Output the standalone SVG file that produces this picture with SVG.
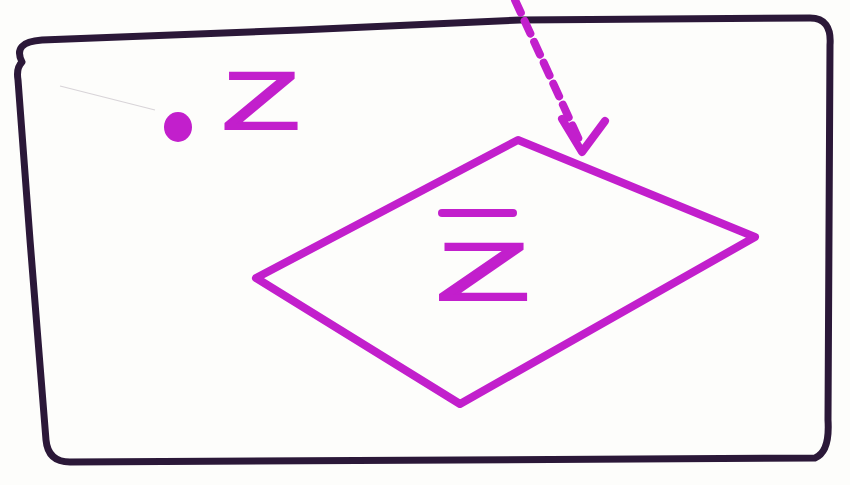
<svg xmlns="http://www.w3.org/2000/svg" width="850" height="485" viewBox="0 0 850 485">
<style>
.ink{fill:none;stroke:#c21fcc;stroke-width:8;stroke-linecap:round;stroke-linejoin:round}
.lbl{font-family:"Liberation Sans",Arial,sans-serif;fill:#c21fcc;stroke:#c21fcc;stroke-width:2}
</style>
<rect width="850" height="485" fill="#fdfdfb"/>
<g id="frame">
<path d="M22,62 Q12,42 42,40 L300,30 L520,20 L810,18 Q832,18 830,45 L828,420 Q830,452 815,458 L70,462 Q48,462 46,440 L30,240 L18,80 Q16,68 22,62 Z" fill="none" stroke="#2b1838" stroke-width="7" stroke-linejoin="round"/>
</g>
<g id="pointZ">
<line x1="60" y1="86" x2="155" y2="110" stroke="#d8d4d8" stroke-width="1.2"/>
<ellipse cx="178" cy="127" rx="14" ry="15" fill="#c21fcc"/>
<text class="lbl" x="222" y="129" font-size="82" textLength="78" lengthAdjust="spacingAndGlyphs">Z</text>
</g>
<g id="conj">
<polygon class="ink" points="256,278 518,140 755,237 460,404"/>
<line class="ink" x1="442" y1="213" x2="513" y2="213"/>
<text class="lbl" x="436" y="300" font-size="82" textLength="94" lengthAdjust="spacingAndGlyphs">Z</text>
</g>
<g id="connectors">
<path class="ink" d="M515,0 L580,142" stroke-dasharray="14,9"/>
<path class="ink" d="M562,119 L582,152 L605,121"/>
</g>
</svg>
